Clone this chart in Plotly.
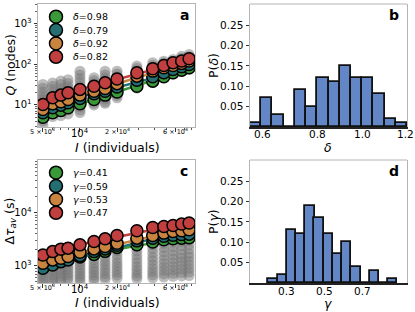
import numpy as np
import plotly.graph_objects as go

W, H = 415, 312
FONT = "DejaVu Sans"

# ---------------- data ----------------
population = [5000, 6000, 7000, 8000, 10000, 13000, 16000, 20000, 29000, 39000, 48000, 57000, 67000, 77000]

series_colors = ["#3a9a3a", "#256f72", "#c98540", "#c23f3f"]

# panel a : Q (nodes)
delta_labels = ["0.98", "0.79", "0.92", "0.82"]
delta_slopes = [0.98, 0.79, 0.92, 0.82]
q_green = [5.0, 6.4, 7.3, 8.5, 10.7, 13.7, 17.5, 20.9, 29.1, 38.7, 49.7, 62.4, 72.3, 83.0]
q_teal = [6.4, 8.5, 9.9, 11.3, 14.5, 18.9, 21.9, 27.8, 40.9, 49.7, 62.4, 75.3, 87.7, 100]
q_orange = [7.7, 10.7, 12.0, 13.7, 17.5, 21.9, 25.5, 33.6, 51.4, 68.4, 83.0, 94.4, 106, 121]
q_red = [10.3, 15.1, 17.5, 20.0, 24.2, 29.1, 35.3, 43.9, 62.4, 78.3, 94.4, 110, 121, 138]

q_gray = [
    [32, 26, 21, 18, 15, 13, 11, 9.5, 8, 6.5, 5, 4, 3.2],
    [35, 29, 24, 20, 17, 15, 13, 11, 9.5, 8, 6.5, 5.2],
    [39, 32, 26, 22, 19, 16, 14, 12, 10, 8.5, 7, 5.5],
    [42, 34, 28, 24, 20, 17, 15, 13, 11, 9, 7.5, 6],
    [68, 55, 45, 37, 30, 26, 22, 19, 16, 13, 11, 9, 7.5, 6.5],
    [47, 40, 34, 30, 26, 23, 20, 17, 15, 13, 11, 10],
    [68, 55, 46, 40, 34, 30, 26, 22, 19, 16, 14, 12, 11],
    [68, 58, 50, 44, 38, 33, 29, 26, 22, 19, 17, 15],
    [91, 80, 70, 62, 55, 49, 44, 39, 35, 31, 28, 26],
    [110, 96, 85, 76, 68, 61, 55, 49, 44, 40, 36],
    [120, 108, 97, 88, 80, 72, 65, 59, 53, 48],
    [133, 120, 108, 98, 89, 81, 74, 67, 62, 57],
    [160, 142, 127, 114, 103, 94, 86, 79, 73, 68],
    [176, 155, 138, 124, 112, 102, 94, 87, 80, 75],
]

# panel c : Delta tau_av (s)
gamma_labels = ["0.41", "0.59", "0.53", "0.47"]
gamma_slopes = [0.41, 0.59, 0.53, 0.47]
t_green = [1140, 1215, 1300, 1355, 1480, 1650, 1880, 2230, 2510, 2820, 3100, 3240, 3330, 3390]
t_teal = [906, 1045, 1205, 1300, 1565, 1860, 2090, 2440, 2960, 3300, 3600, 3760, 3880, 3960]
t_orange = [1120, 1300, 1400, 1500, 1810, 2090, 2310, 2660, 3330, 3730, 4140, 4440, 4570, 4780]
t_red = [1610, 1860, 2070, 2160, 2490, 2870, 3230, 3730, 4570, 5280, 5520, 5750, 6120, 6400]

t_gray = [
    [1500, 1300, 1150, 1000, 900, 800, 720, 650, 580, 520, 460],
    [1700, 1450, 1250, 1100, 960, 850, 760, 680, 610, 540, 480],
    [1900, 1600, 1380, 1200, 1050, 920, 820, 730, 650, 580, 510],
    [2000, 1700, 1450, 1250, 1100, 960, 850, 750, 670, 600, 530],
    [2300, 1950, 1650, 1400, 1200, 1050, 920, 810, 720, 640, 570, 500],
    [2600, 2200, 1850, 1550, 1300, 1120, 980, 860, 760, 670, 600, 530],
    [2900, 2400, 2000, 1700, 1450, 1250, 1080, 940, 820, 720, 630, 560],
    [3300, 2700, 2250, 1900, 1600, 1350, 1150, 1000, 870, 760, 670, 590],
    [4000, 3300, 2700, 2250, 1900, 1600, 1350, 1150, 980, 850, 740, 650, 580],
    [4500, 3700, 3000, 2500, 2100, 1750, 1450, 1250, 1050, 900, 780, 680, 600],
    [4800, 3900, 3200, 2650, 2200, 1850, 1550, 1300, 1100, 950, 820, 710, 620],
    [5000, 4100, 3400, 2800, 2300, 1900, 1600, 1350, 1150, 980, 840, 730, 640],
    [5200, 4300, 3500, 2900, 2400, 2000, 1650, 1400, 1200, 1020, 870, 750, 650],
    [5500, 4500, 3700, 3000, 2500, 2050, 1700, 1450, 1230, 1050, 900, 770, 660],
]

# panel b : histogram of delta
delta_bin_left = [0.50, 0.55, 0.60, 0.65, 0.70, 0.75, 0.80, 0.85, 0.90, 0.95, 1.00, 1.05, 1.10, 1.15]
delta_bin_width = 0.05
delta_prob = [0.01, 0.07, 0.03, 0.0, 0.09, 0.05, 0.12, 0.11, 0.15, 0.12, 0.12, 0.08, 0.02, 0.01]
delta_tick_pos = [0.555, 0.8, 1.0, 1.195]
delta_tick_text = ["0.6", "0.8", "1.0", "1.2"]

# panel d : histogram of gamma
gamma_bin_left = [0.204, 0.252, 0.301, 0.349, 0.398, 0.446, 0.494, 0.543, 0.591, 0.640, 0.688, 0.736, 0.785, 0.833]
gamma_bin_width = 0.0484
gamma_prob = [0.01, 0.02, 0.13, 0.12, 0.19, 0.16, 0.12, 0.07, 0.10, 0.04, 0.0, 0.03, 0.0, 0.01]
gamma_tick_pos = [0.3, 0.5, 0.7]
gamma_tick_text = ["0.3", "0.5", "0.7"]

pop_ticks = [5000, 10000, 20000, 60000]
pop_tick_text = ["5 × 10<sup>3</sup>", "10<sup>4</sup>", "2 × 10<sup>4</sup>", "6 × 10<sup>4</sup>"]

# ---------------- layout helpers ----------------
def px_x(p):
    return p / W

def px_y(p):
    return 1 - p / H

panels = {
    "a": dict(x=(38, 195), y=(4, 127)),
    "b": dict(x=(250, 407), y=(4, 127)),
    "c": dict(x=(38, 195), y=(160, 283)),
    "d": dict(x=(250, 407), y=(160, 283)),
}

fig = go.Figure()

LINE_X = [4600, 85000]


def add_scatter_panel(xa, ya, gray, series, slopes):
    gx, gy = [], []
    for xv, col in zip(population, gray):
        gx += [xv] * len(col)
        gy += col
    fig.add_trace(go.Scatter(x=gx, y=gy, mode="markers", xaxis=xa, yaxis=ya,
                             marker=dict(size=11, color="rgba(118,118,118,0.48)", line=dict(width=0)),
                             showlegend=False, hoverinfo="skip"))
    lx = np.log10(population)
    for vals, col, s in zip(series, series_colors, slopes):
        ly = np.log10(vals)
        mx, my = lx.mean(), ly.mean()
        ys = [10 ** (my + s * (np.log10(v) - mx)) for v in LINE_X]
        fig.add_trace(go.Scatter(x=LINE_X, y=ys, mode="lines", xaxis=xa, yaxis=ya,
                                 line=dict(color=col, width=2.5), showlegend=False, hoverinfo="skip"))
        fig.add_trace(go.Scatter(x=population, y=vals, mode="markers", xaxis=xa, yaxis=ya,
                                 marker=dict(size=12, color=col, line=dict(color="black", width=1.5)),
                                 showlegend=False))


add_scatter_panel("x", "y", q_gray, [q_green, q_teal, q_orange, q_red], delta_slopes)
add_scatter_panel("x3", "y3", t_gray, [t_green, t_teal, t_orange, t_red], gamma_slopes)

BAR_COLOR = "#6386c6"
fig.add_trace(go.Bar(x=[l + delta_bin_width / 2 for l in delta_bin_left], y=delta_prob, width=delta_bin_width,
                     xaxis="x2", yaxis="y2", marker=dict(color=BAR_COLOR, line=dict(color="#111", width=1.8)),
                     showlegend=False))
fig.add_trace(go.Bar(x=[l + gamma_bin_width / 2 for l in gamma_bin_left], y=gamma_prob, width=gamma_bin_width,
                     xaxis="x4", yaxis="y4", marker=dict(color=BAR_COLOR, line=dict(color="#111", width=1.8)),
                     showlegend=False))

FRAME = "#b4b4b4"
tickfont = dict(family=FONT, size=10, color="black")

log_x_ticks = dict(
    type="log", range=[np.log10(4560), np.log10(86000)],
    tickvals=pop_ticks, showticklabels=False,
    ticks="outside", ticklen=3.5, tickwidth=1, tickcolor="#333",
    minor=dict(tickvals=[6000, 7000, 8000, 9000, 30000, 40000, 50000, 70000, 80000], ticks="outside",
               ticklen=2, tickcolor="#555", showgrid=False),
    showline=True, linecolor=FRAME, linewidth=1, mirror=True, showgrid=False, zeroline=False,
)

def log_minor(lo, hi):
    out = []
    for e in range(lo, hi):
        for m in range(2, 10):
            out.append(m * 10 ** e)
    return out

layout = dict(
    width=W, height=H, margin=dict(l=0, r=0, t=0, b=0),
    paper_bgcolor="white", plot_bgcolor="white", bargap=0,
    font=dict(family=FONT, color="black"),
)

dom = lambda k: dict(domain=[px_x(panels[k]["x"][0]), px_x(panels[k]["x"][1])])
domy = lambda k: dict(domain=[px_y(panels[k]["y"][1]), px_y(panels[k]["y"][0])])

layout["xaxis"] = dict(**log_x_ticks, **dom("a"), anchor="y")
layout["xaxis3"] = dict(**log_x_ticks, **dom("c"), anchor="y3")
layout["yaxis"] = dict(type="log", range=[0.457, 3.49], tickvals=[10, 100, 1000],
                       ticktext=["10<sup>1</sup>", "10<sup>2</sup>", "10<sup>3</sup>"],
                       ticks="outside", ticklen=3.5, tickcolor="#333",
                       minor=dict(tickvals=log_minor(0, 4), ticks="outside", ticklen=2, tickcolor="#666", showgrid=False),
                       showline=True, linecolor=FRAME, mirror=True, showgrid=False, zeroline=False,
                       tickfont=tickfont, **domy("a"), anchor="x")
layout["yaxis3"] = dict(type="log", range=[2.68, 4.99], tickvals=[1000, 10000],
                        ticktext=["10<sup>3</sup>", "10<sup>4</sup>"],
                        ticks="outside", ticklen=3.5, tickcolor="#333",
                        minor=dict(tickvals=log_minor(2, 5), ticks="outside", ticklen=2, tickcolor="#666", showgrid=False),
                        showline=True, linecolor=FRAME, mirror=True, showgrid=False, zeroline=False,
                        tickfont=tickfont, **domy("c"), anchor="x3")

histy = dict(range=[0, 0.302], tickvals=[0.05, 0.10, 0.15, 0.20, 0.25],
             ticktext=["0.05", "0.10", "0.15", "0.20", "0.25"], ticks="outside", ticklen=3.5, tickcolor="#333",
             showline=True, linecolor=FRAME, mirror=True, showgrid=False, zeroline=False,
             tickfont=dict(family=FONT, size=10.5, color="black"))
layout["yaxis2"] = dict(**histy, **domy("b"), anchor="x2")
layout["yaxis4"] = dict(**histy, **domy("d"), anchor="x4")
layout["xaxis2"] = dict(range=[0.5, 1.2], showticklabels=False,
                        ticks="", showline=True, linecolor="#222", linewidth=1.5, showgrid=False, zeroline=False,
                        **dom("b"), anchor="y2")
layout["xaxis4"] = dict(range=[0.107, 0.933], showticklabels=False,
                        ticks="", showline=True, linecolor="#222", linewidth=1.5, showgrid=False, zeroline=False,
                        **dom("d"), anchor="y4")

fig.update_layout(**layout)

shapes = []
annotations = []
for k in ["b", "d"]:
    x0, x1 = panels[k]["x"]
    y0 = panels[k]["y"][0]
    shapes.append(dict(type="line", xref="paper", yref="paper", x0=px_x(x0), x1=px_x(x1), y0=px_y(y0), y1=px_y(y0),
                       line=dict(color=FRAME, width=1)))

# x tick labels drawn as text at the tick values
for xa, ybase in [("x", 0), ("x3", 156)]:
    for v, t in zip(pop_ticks, pop_tick_text):
        big = v == 10000
        annotations.append(dict(text=t, xref=xa, yref="paper", x=np.log10(v), y=px_y(ybase + (132.5 if big else 131)),
                                xanchor="center", yanchor="middle", showarrow=False,
                                font=dict(family=FONT, size=10 if big else 6.5, color="black")))
for xa, ybase, pos, txt in [("x2", 0, delta_tick_pos, delta_tick_text), ("x4", 157, gamma_tick_pos, gamma_tick_text)]:
    for v, t in zip(pos, txt):
        annotations.append(dict(text=t, xref=xa, yref="paper", x=v, y=px_y(ybase + 133.5),
                                xanchor="center", yanchor="middle", showarrow=False,
                                font=dict(family=FONT, size=10.5, color="black")))

# legends (drawn as marker + text)
def legend(top, sym, labels):
    for i, (lab, col) in enumerate(zip(labels, series_colors)):
        yc = top + i * 13.35
        shapes.append(dict(type="circle", xref="paper", yref="paper", xsizemode="pixel", ysizemode="pixel",
                           xanchor=px_x(56), yanchor=px_y(yc), x0=-6.5, x1=6.5, y0=-6.5, y1=6.5,
                           fillcolor=col, line=dict(color="black", width=1.5)))
        annotations.append(dict(text="<i>%s</i>=%s" % (sym, lab), xref="paper", yref="paper", x=px_x(71), y=px_y(yc),
                                xanchor="left", yanchor="middle", showarrow=False,
                                font=dict(family=FONT, size=9.5, color="black")))

legend(16.7, "δ", delta_labels)
legend(172.7, "γ", gamma_labels)

def ann(text, x, y, size, angle=0, **kw):
    annotations.append(dict(text=text, xref="paper", yref="paper", x=px_x(x), y=px_y(y), xanchor="center",
                            yanchor="middle", showarrow=False, textangle=angle,
                            font=dict(family=FONT, size=size, color="black"), **kw))

# panel letters
ann("<b>a</b>", 184, 15, 14)
ann("<b>b</b>", 394, 15, 14)
ann("<b>c</b>", 184, 171, 14)
ann("<b>d</b>", 394, 171, 14)

# axis titles
ann("<i>I</i> (individuals)", 117, 147, 12.5)
ann("<i>I</i> (individuals)", 117, 302, 12.5)
ann("<i>Q</i> (nodes)", 9.5, 65, 12.5, angle=-90)
ann("Δ<i>τ</i><sub><i>av</i></sub> (s)", 9.5, 221, 12.5, angle=-90)
ann("P(<i>δ</i>)", 213, 65, 12.5, angle=-90)
ann("P(<i>γ</i>)", 213, 221, 12.5, angle=-90)
ann("<i>δ</i>", 328, 147, 12.5)
ann("<i>γ</i>", 328, 303, 12.5)

fig.update_layout(shapes=shapes, annotations=annotations)
fig.write_html("out.html", config={"displayModeBar": False},
               post_script="document.body.style.margin='0';document.body.style.overflow='hidden';")
